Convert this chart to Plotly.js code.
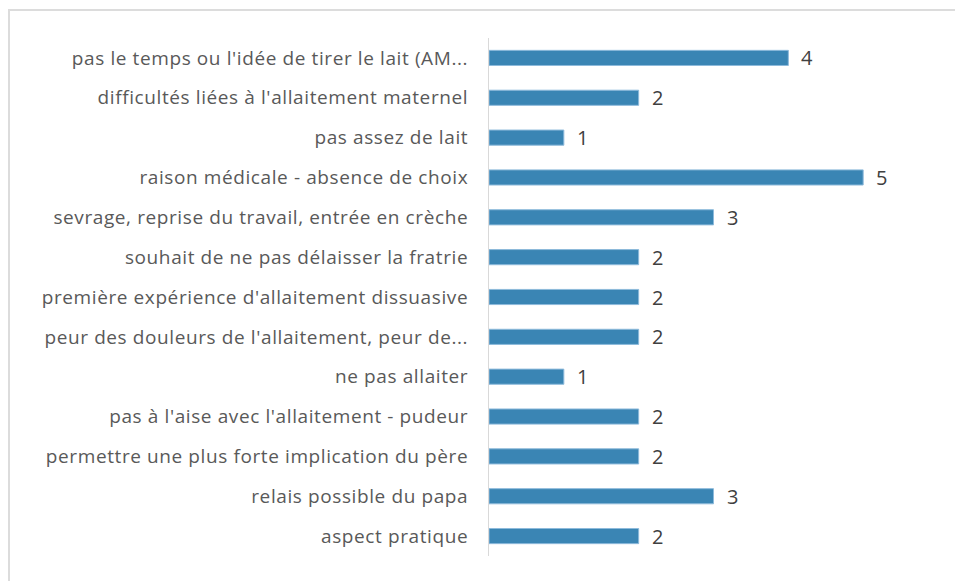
<!DOCTYPE html>
<html>
<head>
<meta charset="utf-8">
<script src="https://cdn.plot.ly/plotly-3.0.1.min.js"></script>
<style>
html,body{margin:0;padding:0;background:#fff;}
#frame{position:absolute;left:8px;top:9px;width:960px;height:600px;border-left:2px solid #dcdcdc;border-top:2px solid #dcdcdc;pointer-events:none;z-index:5;}
#chart{position:absolute;left:0;top:0;width:955px;height:581px;}
#chart .ytick text{letter-spacing:0.6px;}
</style>
</head>
<body>
<div id="chart"></div>
<div id="frame"></div>
<script>
const categories = [
  "pas le temps ou l'idée de tirer le lait (AM...",
  "difficultés liées à l'allaitement maternel",
  "pas assez de lait",
  "raison médicale - absence de choix",
  "sevrage, reprise du travail, entrée en crèche",
  "souhait de ne pas délaisser la fratrie",
  "première expérience d'allaitement dissuasive",
  "peur des douleurs de l'allaitement, peur de...",
  "ne pas allaiter",
  "pas à l'aise avec l'allaitement - pudeur",
  "permettre une plus forte implication du père",
  "relais possible du papa",
  "aspect pratique"
];
const values = [4, 2, 1, 5, 3, 2, 2, 2, 1, 2, 2, 3, 2];

const trace = {
  type: 'bar',
  orientation: 'h',
  y: categories,
  x: values,
  marker: {color: '#3a85b4', line: {color: '#8dbadb', width: 1}},
  width: 0.38,
  hoverinfo: 'x+y'
};

const annotations = categories.map((c, i) => ({
  x: values[i], y: c, xref: 'x', yref: 'y',
  text: String(values[i]), showarrow: false,
  xanchor: 'left', xshift: 11,
  font: {family: 'Open Sans, sans-serif', size: 20, color: '#404040'}
}));

const layout = {
  width: 955, height: 581,
  margin: {l: 489, r: 17, t: 38, b: 25},
  paper_bgcolor: '#fff', plot_bgcolor: '#fff',
  showlegend: false,
  bargap: 0.62,
  xaxis: {range: [0, 6], showgrid: false, zeroline: false, showticklabels: false, showline: false, ticks: ''},
  yaxis: {
    autorange: 'reversed', showgrid: false, zeroline: false,
    showline: true, linecolor: '#d9d9d9', linewidth: 1, ticks: '',
    ticklabelstandoff: 16,
    tickfont: {family: 'Open Sans, sans-serif', size: 19, color: '#595959'}
  },
  annotations: annotations
};

Plotly.newPlot('chart', [trace], layout, {displayModeBar: false, staticPlot: true});
</script>
</body>
</html>
